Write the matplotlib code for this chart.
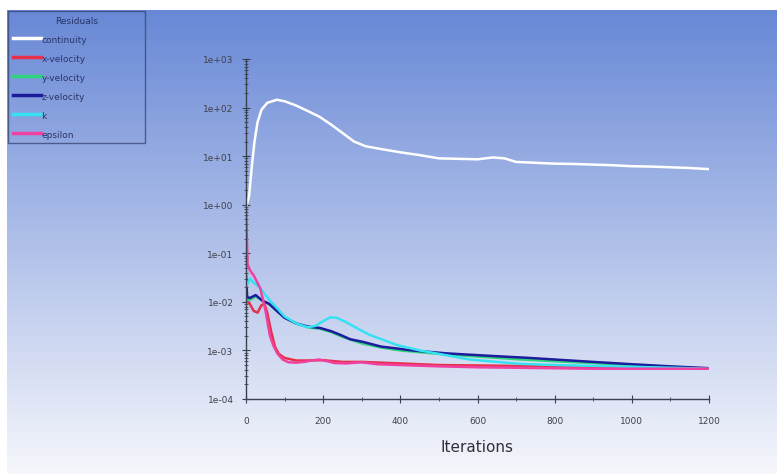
import numpy as np
import matplotlib
matplotlib.use('Agg')
import matplotlib.pyplot as plt
from matplotlib.ticker import FixedLocator, FuncFormatter, MultipleLocator, LogLocator, NullFormatter

## residual histories
continuity_it = [0, 8, 15, 22, 30, 40, 55, 80, 100, 130, 160, 190, 220, 250, 280, 310, 350, 400,
                 450, 500, 550, 600, 640, 670, 700, 750, 800, 850, 900, 950, 1000, 1050, 1100, 1150, 1200]
continuity = [0.9, 1.5, 6, 20, 50, 90, 125, 145, 135, 110, 85, 65, 45, 30, 20, 16, 14, 12,
              10.5, 9, 8.8, 8.6, 9.4, 9.0, 7.6, 7.3, 7.0, 6.9, 6.7, 6.5, 6.2, 6.1, 5.9, 5.7, 5.4]

xvel_it = [0, 10, 20, 30, 40, 48, 55, 65, 75, 85, 100, 130, 160, 200, 250, 300, 400, 500,
           600, 700, 800, 900, 1000, 1100, 1200]
xvel = [0.011, 0.009, 0.0065, 0.006, 0.0085, 0.009, 0.006, 0.0025, 0.0012, 0.00085, 0.0007,
        0.00062, 0.00062, 0.00063, 0.00058, 0.00058, 0.00054, 0.0005, 0.00049, 0.00048,
        0.00047, 0.00046, 0.00045, 0.00044, 0.00043]

yvel_it = [0, 3, 10, 25, 43, 60, 80, 100, 130, 160, 192, 220, 250, 300, 350, 400, 450, 500,
           600, 700, 800, 900, 1000, 1100, 1200]
yvel = [0.03, 0.011, 0.011, 0.013, 0.0105, 0.009, 0.0065, 0.0047, 0.0036, 0.003, 0.0028,
        0.0024, 0.0019, 0.0014, 0.00115, 0.001, 0.00092, 0.00085, 0.00075, 0.00066, 0.0006,
        0.00055, 0.0005, 0.00046, 0.00042]

zvel_it = [0, 3, 10, 25, 43, 60, 80, 100, 130, 160, 192, 220, 244, 270, 303, 350, 390, 430,
           477, 520, 564, 650, 736, 800, 900, 1000, 1100, 1200]
zvel = [0.034, 0.0125, 0.012, 0.0138, 0.0105, 0.0091, 0.0065, 0.0047, 0.0036, 0.0031, 0.0029,
        0.0025, 0.0021, 0.0017, 0.0015, 0.0012, 0.0011, 0.001, 0.00093, 0.00087, 0.00083,
        0.00076, 0.0007, 0.00065, 0.00058, 0.00052, 0.00047, 0.00043]

k_it = [0, 10, 20, 37, 50, 65, 80, 100, 130, 160, 180, 200, 218, 235, 260, 290, 320, 360,
        390, 450, 500, 580, 650, 710, 800, 900, 1000, 1100, 1200]
k = [0.02, 0.03, 0.025, 0.019, 0.014, 0.01, 0.0075, 0.005, 0.0036, 0.003, 0.0032, 0.004,
     0.0048, 0.0047, 0.0038, 0.0028, 0.0021, 0.0016, 0.0013, 0.001, 0.00085, 0.00065,
     0.00058, 0.00053, 0.0005, 0.00048, 0.00046, 0.00044, 0.00042]

eps_it = [0, 4, 10, 20, 37, 50, 62, 72, 82, 95, 110, 130, 150, 170, 190, 210, 230, 260, 300,
          340, 400, 500, 600, 700, 800, 900, 1000, 1100, 1200]
eps = [1.0, 0.06, 0.045, 0.035, 0.019, 0.007, 0.002, 0.0012, 0.00085, 0.00065, 0.00057,
       0.00056, 0.00058, 0.00062, 0.00065, 0.0006, 0.00055, 0.00054, 0.00057, 0.00052, 0.0005,
       0.00047, 0.00045, 0.00044, 0.00043, 0.00042, 0.00042, 0.00042, 0.00042]

series = [
    ('continuity', continuity_it, continuity, '#ffffff'),
    ('x-velocity', xvel_it, xvel, '#e8304a'),
    ('y-velocity', yvel_it, yvel, '#2ed47a'),
    ('z-velocity', zvel_it, zvel, '#1c1c9c'),
    ('k', k_it, k, '#36e2f2'),
    ('epsilon', eps_it, eps, '#f040a0'),
]

x_ticks = [0, 200, 400, 600, 800, 1000, 1200]
y_ticks = [1e-4, 1e-3, 1e-2, 1e-1, 1e0, 1e1, 1e2, 1e3]

W, H = 778, 477
fig = plt.figure(figsize=(W / 100, H / 100), dpi=100, facecolor='white')

##__gradient background
bg = fig.add_axes([7 / W, 2 / H, (W - 9) / W, (H - 13) / H])
top = np.array([104, 136, 214]) / 255
bot = np.array([246, 247, 252]) / 255
t = np.linspace(0, 1, 256)[:, None]
grad_img = (top * (1 - t) + bot * t)[:, None, :].repeat(2, axis=1)
bg.imshow(grad_img, aspect='auto', extent=[0, 1, 0, 1])
bg.set_axis_off()
bg.set_zorder(-10)

##__residual axes
ax = fig.add_axes([246 / W, 1 - 400 / H, (709 - 246) / W, (400 - 60) / H])
ax.set_facecolor('none')
for name, it, val, col in series:
    ax.plot(it, val, color=col, lw=1.8, label=name, solid_joinstyle='round')

ax.set_yscale('log')
ax.set_xlim(0, 1200)
ax.set_ylim(1e-4, 1e3)
ax.xaxis.set_major_locator(FixedLocator(x_ticks))
ax.xaxis.set_minor_locator(MultipleLocator(100))
ax.yaxis.set_major_locator(FixedLocator(y_ticks))
ax.yaxis.set_minor_locator(LogLocator(base=10, subs=np.arange(2, 10), numticks=20))
ax.yaxis.set_minor_formatter(NullFormatter())
ax.yaxis.set_major_formatter(FuncFormatter(lambda v, p: '1e%+03d' % int(round(np.log10(v)))))

for s in ['top', 'right']:
    ax.spines[s].set_visible(False)
for s in ['left', 'bottom']:
    ax.spines[s].set_color('#3c4150')
    ax.spines[s].set_linewidth(1.0)

ax.tick_params(axis='both', which='major', direction='inout', length=6, width=0.8,
               colors='#3c4150', labelsize=6.5, labelcolor='#404048')
ax.tick_params(axis='both', which='minor', direction='inout', length=3, width=0.6, colors='#3c4150')
ax.tick_params(axis='y', which='major', pad=6)
ax.tick_params(axis='x', which='major', pad=9)
ax.set_xlabel('Iterations', fontsize=11, color='#303038', labelpad=10)

##__legend
leg = fig.legend(
    loc='upper left', bbox_to_anchor=(8 / W, 1 - 145 / H, 137 / W, 133 / H), mode='expand',
    title='Residuals', fontsize=6.5, title_fontsize=6.5, frameon=True, fancybox=False,
    handlelength=3.2, handletextpad=0.0, labelspacing=1.11, borderpad=0.5, borderaxespad=0,
)
leg.get_frame().set_edgecolor('#3a4878')
leg.get_frame().set_facecolor('none')
leg.get_frame().set_linewidth(1.0)
for txt in leg.get_texts():
    txt.set_color('#2a3468')
leg.get_title().set_color('#2a3468')
for ln in leg.get_lines():
    ln.set_linewidth(2.5)

plt.savefig('out.png', dpi=100)
